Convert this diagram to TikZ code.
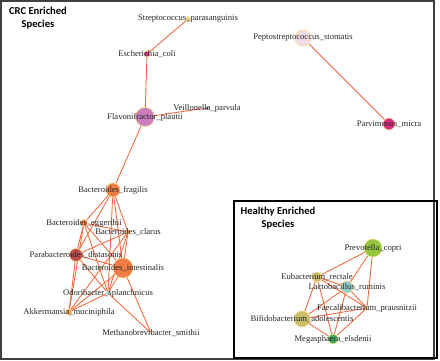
\documentclass[tikz,border=0pt]{standalone}
\usepackage{fontspec}
\setmainfont{Liberation Serif}
\newfontfamily\titlefont{Carlito}
\usepackage{tikz}
\usetikzlibrary{backgrounds}
\definecolor{linkRed}{HTML}{F4683C}
\definecolor{ringYel}{HTML}{F8D98C}
\definecolor{cStrep}{HTML}{D8DC86}
\definecolor{cEcoli}{HTML}{D63A86}
\definecolor{cFlavo}{HTML}{CB7DBE}
\definecolor{cVeil}{HTML}{3E5590}
\definecolor{cPepto}{HTML}{F3DCEA}
\definecolor{cParvi}{HTML}{DA2F7F}
\definecolor{cBact}{HTML}{F27B46}
\definecolor{cDist}{HTML}{C24B4C}
\definecolor{cOdor}{HTML}{A9D9D1}
\definecolor{cAkk}{HTML}{F0A35C}
\definecolor{cMeth}{HTML}{EFC07E}
\definecolor{cPrev}{HTML}{94C63F}
\definecolor{cOlive}{HTML}{CABD69}
\definecolor{cLact}{HTML}{93CDCB}
\definecolor{cMega}{HTML}{3EAE5F}

\begin{document}
\begin{tikzpicture}[x=1pt, y=-1pt,
    font=\fontsize{8.6}{9}\selectfont,
    sp/.style={circle, draw=ringYel, line width=0.6pt, inner sep=0pt, minimum size=#1},
    lbl/.style={inner sep=0pt, text=black!85},
    link/.style={linkRed, line width=0.85pt},
    title/.style={font=\titlefont\bfseries\fontsize{10.6}{13}\selectfont, align=center, inner sep=0pt},
    frame/.style={line width=1.4pt}]
    \useasboundingbox (0,0) rectangle (440,361);
    % --- frames ---
    \draw[frame, black!75] (1,1) rectangle (434,359);
    \draw[frame, black] (234,201) rectangle (437,358);
    \node[title] (crct) at (38,18) {CRC Enriched\\Species};
    \node[title] (healtht) at (278,218) {Healthy Enriched\\Species};
    % --- CRC species ---
    \node[sp=5pt, fill=cStrep] (strep) at (188,19) {};
    \node[sp=6pt, fill=cEcoli] (ecoli) at (147,54) {};
    \node[sp=19pt, fill=cFlavo] (flavo) at (145,117) {};
    \node[sp=3pt, fill=cVeil, draw=none] (veil) at (207,108) {};
    \node[sp=16pt, fill=cPepto] (pepto) at (303,38) {};
    \node[sp=12pt, fill=cParvi] (parvi) at (389,124) {};
    \node[sp=14pt, fill=cBact] (fragi) at (113,190) {};
    \node[sp=7pt, fill=cBact] (egger) at (84,223) {};
    \node[sp=4pt, fill=cBact] (clarus) at (128,232) {};
    \node[sp=13pt, fill=cDist] (dista) at (76,255) {};
    \node[sp=20pt, fill=cBact] (intes) at (123,268) {};
    \node[sp=4pt, fill=cOdor, draw=none] (odori) at (108,293) {};
    \node[sp=6pt, fill=cAkk] (akker) at (69,312) {};
    \node[sp=2pt, fill=cMeth, draw=none] (metha) at (151,333) {};
    % --- healthy species ---
    \node[sp=18pt, fill=cPrev] (prevo) at (373,248) {};
    \node[sp=10pt, fill=cOlive] (eubac) at (317,277) {};
    \node[sp=12pt, fill=cLact] (lacto) at (347,287) {};
    \node[sp=2pt, fill=cOlive, draw=none] (faeca) at (367,308) {};
    \node[sp=16pt, fill=cOlive] (bifid) at (302,319) {};
    \node[sp=10pt, fill=cMega] (megas) at (333,339) {};
    % --- links ---
    \begin{scope}[on background layer]
      \foreach \a/\b in {strep/ecoli, ecoli/flavo, flavo/veil, flavo/fragi, pepto/parvi,
          fragi/egger, fragi/clarus, fragi/dista, fragi/intes, fragi/odori,
          egger/clarus, egger/dista, egger/intes, egger/odori, egger/akker,
          clarus/dista, clarus/intes, clarus/odori, clarus/akker,
          dista/intes, dista/odori, dista/akker,
          intes/odori, intes/akker, intes/metha, odori/akker, odori/metha,
          prevo/eubac, prevo/lacto, prevo/faeca,
          eubac/lacto, eubac/faeca, eubac/bifid, eubac/megas,
          lacto/bifid, lacto/megas, lacto/faeca,
          faeca/bifid, faeca/megas, bifid/megas}
        \draw[link] (\a) -- (\b);
    \end{scope}
    % --- labels ---
    \node[lbl] (strep-l) at (strep) {Streptococcus\_parasanguinis};
    \node[lbl] (ecoli-l) at (ecoli) {Escherichia\_coli};
    \node[lbl] (flavo-l) at (flavo) {Flavonifractor\_plautii};
    \node[lbl] (veil-l) at (veil) {Veillonella\_parvula};
    \node[lbl] (pepto-l) at (pepto) {Peptostreptococcus\_stomatis};
    \node[lbl] (parvi-l) at (parvi) {Parvimonas\_micra};
    \node[lbl] (fragi-l) at (fragi) {Bacteroides\_fragilis};
    \node[lbl] (egger-l) at (egger) {Bacteroides\_eggerthii};
    \node[lbl] (clarus-l) at (clarus) {Bacteroides\_clarus};
    \node[lbl] (dista-l) at (dista) {Parabacteroides\_distasonis};
    \node[lbl] (intes-l) at (intes) {Bacteroides\_intestinalis};
    \node[lbl] (odori-l) at (odori) {Odoribacter\_splanchnicus};
    \node[lbl] (akker-l) at (akker) {Akkermansia\_muciniphila};
    \node[lbl] (metha-l) at (metha) {Methanobrevibacter\_smithii};
    \node[lbl] (prevo-l) at (prevo) {Prevotella\_copri};
    \node[lbl] (eubac-l) at (eubac) {Eubacterium\_rectale};
    \node[lbl] (lacto-l) at (lacto) {Lactobacillus\_ruminis};
    \node[lbl] (faeca-l) at (faeca) {Faecalibacterium\_prausnitzii};
    \node[lbl] (bifid-l) at (bifid) {Bifidobacterium\_adolescentis};
    \node[lbl] (megas-l) at (megas) {Megasphaera\_elsdenii};
\end{tikzpicture}
\end{document}
